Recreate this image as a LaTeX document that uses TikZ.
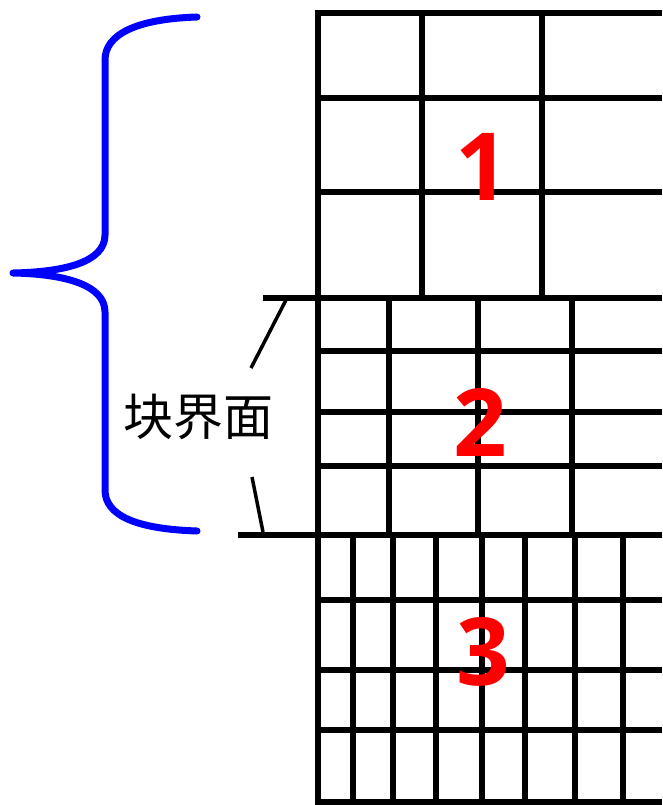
\documentclass[tikz,border=0pt]{standalone}
\usepackage{fontspec}
\newfontfamily\cjkfont{Noto Sans CJK SC}
\newfontfamily\numfont{Open Sans}
\begin{document}
\begin{tikzpicture}[x=1pt,y=-1pt,
  gridline/.style={line width=5.5pt,black},
  leader/.style={line width=3.5pt,black},
  brace/.style={line width=7pt,blue,line cap=round,line join=round},
  blocknum/.style={text=red,font=\numfont\bfseries\fontsize{94}{94}\selectfont,inner sep=0pt},
  label/.style={font=\cjkfont\fontsize{50}{50}\selectfont,inner sep=0pt}]
\useasboundingbox (0,0) rectangle (662,805);
% block 1
\draw[gridline] (318,13) -- (662,13);
\draw[gridline] (318,10) -- (318,805);
\foreach \yy in {98,192} \draw[gridline] (318,\yy) -- (662,\yy);
\foreach \xx in {422,542} \draw[gridline] (\xx,13) -- (\xx,298);
% interface 1
\draw[gridline] (263,298) -- (662,298);
% block 2
\foreach \yy in {351,412,466} \draw[gridline] (318,\yy) -- (662,\yy);
\foreach \xx in {389,478,572} \draw[gridline] (\xx,298) -- (\xx,535);
% interface 2
\draw[gridline] (238,535) -- (662,535);
% block 3
\foreach \yy in {600,670,730,802} \draw[gridline] (318,\yy) -- (662,\yy);
\foreach \xx in {353,393,436,482,525,575,623} \draw[gridline] (\xx,535) -- (\xx,802);
% label and leaders
\node[label] (lbl) at (198,417) {块界面};
\coordinate (if1) at (286,300);
\coordinate (if2) at (263,532);
\draw[leader] (251,368) -- (if1);
\draw[leader] (252,477) -- (if2);
% brace
\draw[brace] (197,17) .. controls (135,19) and (105,35) .. (105,60) -- (105,235)
  .. controls (105,262) and (65,272) .. (13,273)
  .. controls (65,274) and (105,285) .. (105,312) -- (105,490)
  .. controls (105,515) and (135,529) .. (197,531);
% numbers
\node[blocknum] (n1) at (482,167) {1};
\node[blocknum] (n2) at (480,422) {2};
\node[blocknum] (n3) at (483,652) {3};
\end{tikzpicture}
\end{document}
